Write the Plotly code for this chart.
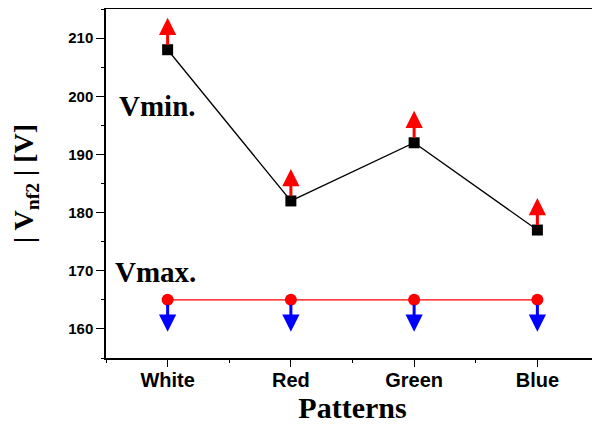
import plotly.graph_objects as go

patterns = ["White", "Red", "Green", "Blue"]
vmin = [208, 182, 192, 177]
vmax = [165, 165, 165, 165]
arrow_len = 5.5

xi = list(range(len(patterns)))

fig = go.Figure()
fig.add_trace(go.Scatter(x=xi, y=vmax, mode="lines+markers",
                         line=dict(color="red", width=1.3),
                         marker=dict(symbol="circle", size=12, color="red"),
                         showlegend=False, cliponaxis=False))
fig.add_trace(go.Scatter(x=xi, y=vmin, mode="lines+markers",
                         line=dict(color="black", width=1.3),
                         marker=dict(symbol="square", size=11, color="black"),
                         showlegend=False, cliponaxis=False))

ann = []
for x, v in zip(xi, vmin):
    ann.append(dict(x=x, y=v + arrow_len, ax=x, ay=v + 0.6, xref="x", yref="y",
                    axref="x", ayref="y", showarrow=True, arrowhead=2,
                    arrowsize=1.15, arrowwidth=3, arrowcolor="red", text=""))
for x, v in zip(xi, vmax):
    ann.append(dict(x=x, y=v - arrow_len, ax=x, ay=v - 0.6, xref="x", yref="y",
                    axref="x", ayref="y", showarrow=True, arrowhead=2,
                    arrowsize=1.15, arrowwidth=3, arrowcolor="blue", text=""))
ann.append(dict(x=-0.41, y=198.4, xref="x", yref="y", text="<b>Vmin.</b>",
                showarrow=False, xanchor="left",
                font=dict(family="Liberation Serif", size=29, color="black")))
ann.append(dict(x=-0.44, y=169.8, xref="x", yref="y", text="<b>Vmax.</b>",
                showarrow=False, xanchor="left",
                font=dict(family="Liberation Serif", size=29, color="black")))

fig.update_layout(
    width=592, height=418,
    margin=dict(l=98, r=1, t=1, b=68, autoexpand=False),
    plot_bgcolor="white", paper_bgcolor="white",
    annotations=ann,
    xaxis=dict(range=[-0.5, 3.5], tickmode="array", tickvals=xi,
               ticktext=[f"<b>{p}</b>" for p in patterns], automargin=False,
               showline=True, linecolor="black", linewidth=1.5, mirror="ticks",
               ticks="outside", ticklen=7, tickwidth=1.3, tickcolor="black",
               ticklabelstandoff=-4,
               showgrid=False, zeroline=False,
               minor=dict(dtick=0.5, tick0=0.5, ticks="outside", ticklen=3, tickcolor="black"),
               tickfont=dict(family="Liberation Sans", size=20, color="black"),
               title=dict(text="<b>Patterns</b>", standoff=4,
                          font=dict(family="Liberation Serif", size=30, color="black"))),
    yaxis=dict(range=[155, 215], tickmode="linear", tick0=160, dtick=10, automargin=False,
               showline=True, linecolor="black", linewidth=1.5, mirror="ticks",
               ticks="outside", ticklen=8, tickwidth=1.3, tickcolor="black",
               showgrid=False, zeroline=False,
               minor=dict(dtick=5, ticks="outside", ticklen=3, tickcolor="black"),
               tickfont=dict(family="Liberation Sans", size=15, color="black"),
               tickprefix="<b>", ticksuffix="</b>",
               title=dict(text="<b>| V<sub>nf2</sub> | [V]</b>", standoff=26,
                          font=dict(family="Liberation Serif", size=28, color="black"))),
)
fig.write_html("out.html")
